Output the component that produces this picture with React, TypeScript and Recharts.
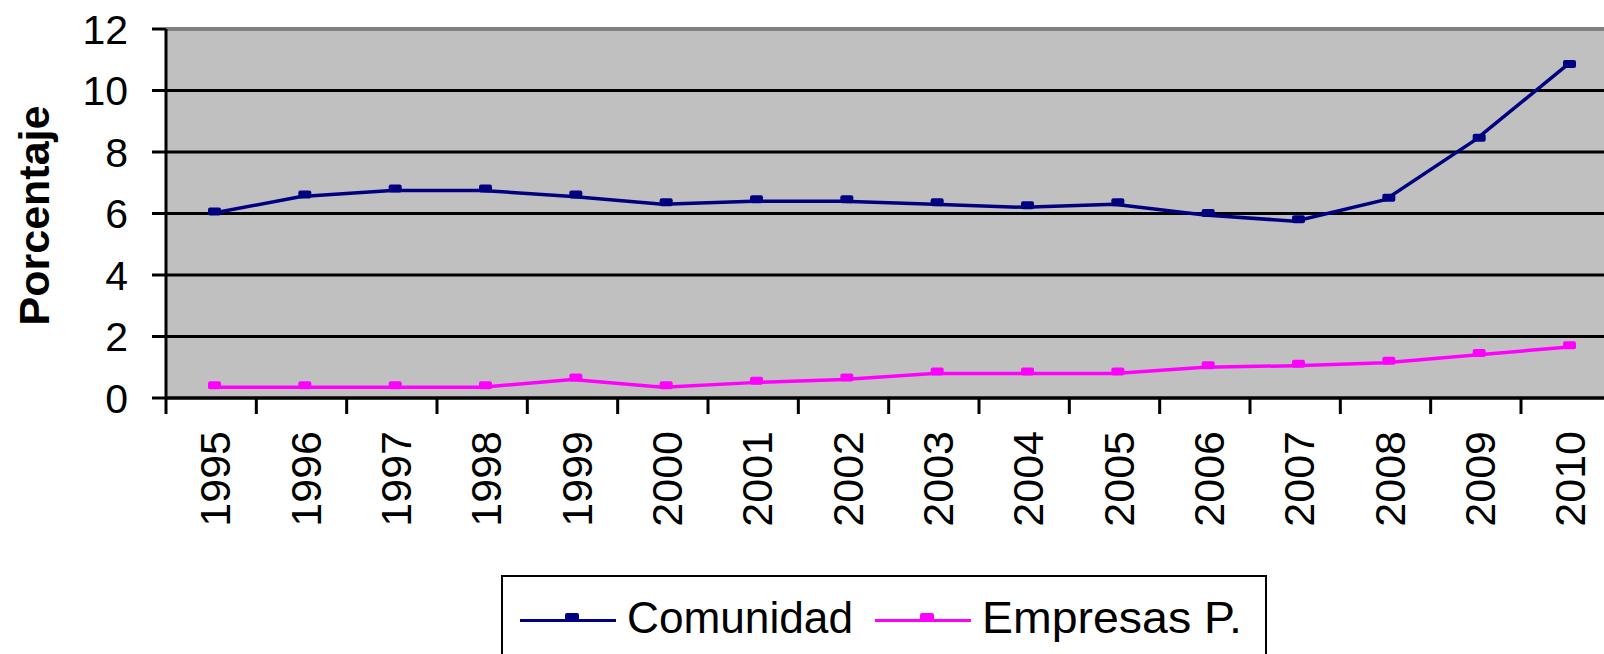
import React from "react";
import {
  LineChart,
  Line,
  XAxis,
  YAxis,
  CartesianGrid,
  ReferenceLine,
  Legend,
} from "recharts";

const years = [
  "1995", "1996", "1997", "1998", "1999", "2000", "2001", "2002",
  "2003", "2004", "2005", "2006", "2007", "2008", "2009", "2010",
];
const comunidad = [6.0, 6.55, 6.75, 6.75, 6.55, 6.3, 6.4, 6.4, 6.3, 6.2, 6.3, 5.95, 5.75, 6.45, 8.4, 10.8];
const empresas = [0.35, 0.35, 0.35, 0.35, 0.6, 0.35, 0.5, 0.6, 0.8, 0.8, 0.8, 1.0, 1.05, 1.15, 1.4, 1.65];
const yTicks = [0, 2, 4, 6, 8, 10, 12];
const seriesNames = ["Comunidad", "Empresas P."];

const data = years.map((year, i) => ({
  year,
  comunidad: comunidad[i],
  empresas: empresas[i],
}));

const FONT = "'Liberation Sans', Arial, sans-serif";
const NAVY = "#000080";
const MAGENTA = "#FF00FF";

// excel draws its markers a little up and right of the line vertex
const squareDot = (color: string) => (props: any) => {
  const { cx, cy, index } = props;
  if (cx == null || cy == null) return <g key={index} />;
  return (
    <rect
      key={index}
      x={cx - 3}
      y={cy - 6}
      width={13}
      height={8}
      rx={2}
      fill={color}
    />
  );
};

const YearTick = (props: any) => {
  const { x, y, payload } = props;
  const tx = x + 4;
  const ty = y + 33;
  return (
    <g>
      <line x1={x - 45} y1={y} x2={x - 45} y2={y + 16} stroke="#000" strokeWidth={3} />
      <text
        x={tx}
        y={ty}
        dy="0.36em"
        transform={`rotate(-90, ${tx}, ${ty})`}
        textAnchor="end"
        fontSize={43}
        fontFamily={FONT}
        fill="#000"
      >
        {payload.value}
      </text>
    </g>
  );
};

const YLabel = (props: any) => {
  const { viewBox } = props;
  const x = viewBox.x + 49;
  const y = viewBox.y + viewBox.height / 2 + 2;
  return (
    <text
      x={x}
      y={y}
      transform={`rotate(-90, ${x}, ${y})`}
      textAnchor="middle"
      fontSize={43}
      fontWeight="bold"
      fontFamily={FONT}
      fill="#000"
    >
      Porcentaje
    </text>
  );
};

const LegendBox = () => {
  const colors = [NAVY, MAGENTA];
  const itemX = [19, 374];
  const textLen = [226, 260];
  return (
    <svg width={766} height={90} style={{ display: "block" }}>
      <rect x={1} y={1} width={764} height={100} fill="#fff" stroke="#000" strokeWidth={2} />
      {seriesNames.map((name, i) => (
        <g key={name}>
          <line x1={itemX[i]} y1={45.5} x2={itemX[i] + 96} y2={45.5} stroke={colors[i]} strokeWidth={3} />
          <rect x={itemX[i] + 45} y={38} width={14} height={8} rx={2} fill={colors[i]} />
          <text
            x={itemX[i] + 107}
            y={58}
            fontSize={45}
            fontFamily={FONT}
            fill="#000"
            textLength={textLen[i]}
            lengthAdjust="spacingAndGlyphs"
          >
            {name}
          </text>
        </g>
      ))}
    </svg>
  );
};

export default function App() {
  return (
    <div
      style={{
        position: "fixed",
        left: 0,
        top: 0,
        width: 1604,
        height: 654,
        overflow: "hidden",
        background: "#fff",
      }}
    >
      <LineChart
        width={1611}
        height={654}
        data={data}
        margin={{ top: 29, right: 0, left: 0, bottom: 0 }}
        style={{ fontFamily: FONT }}
      >
        <CartesianGrid vertical={false} stroke="#000" strokeWidth={3} fill="#C0C0C0" />
        <ReferenceLine y={12} stroke="#808080" strokeWidth={4} />
        <XAxis
          dataKey="year"
          interval={0}
          height={256}
          padding={{ left: 45, right: 45 }}
          tickLine={false}
          tickSize={0}
          tickMargin={0}
          axisLine={{ stroke: "#000", strokeWidth: 3 }}
          tick={<YearTick />}
        />
        <YAxis
          width={166}
          domain={[0, 12]}
          ticks={yTicks}
          interval={0}
          tickSize={14}
          tickMargin={24}
          tickLine={{ stroke: "#000", strokeWidth: 3 }}
          axisLine={{ stroke: "#000", strokeWidth: 3 }}
          tick={{ fill: "#000", fontSize: 41, fontFamily: FONT }}
          label={<YLabel />}
        />
        <Line
          dataKey="comunidad"
          name={seriesNames[0]}
          stroke={NAVY}
          strokeWidth={3.5}
          dot={squareDot(NAVY)}
          activeDot={false}
          isAnimationActive={false}
        />
        <Line
          dataKey="empresas"
          name={seriesNames[1]}
          stroke={MAGENTA}
          strokeWidth={3.5}
          dot={squareDot(MAGENTA)}
          activeDot={false}
          isAnimationActive={false}
        />
        <Legend
          layout="horizontal"
          verticalAlign="middle"
          align="center"
          content={<LegendBox />}
          wrapperStyle={{ position: "absolute", left: 501, top: 575, width: 766, height: 90 }}
        />
      </LineChart>
    </div>
  );
}
